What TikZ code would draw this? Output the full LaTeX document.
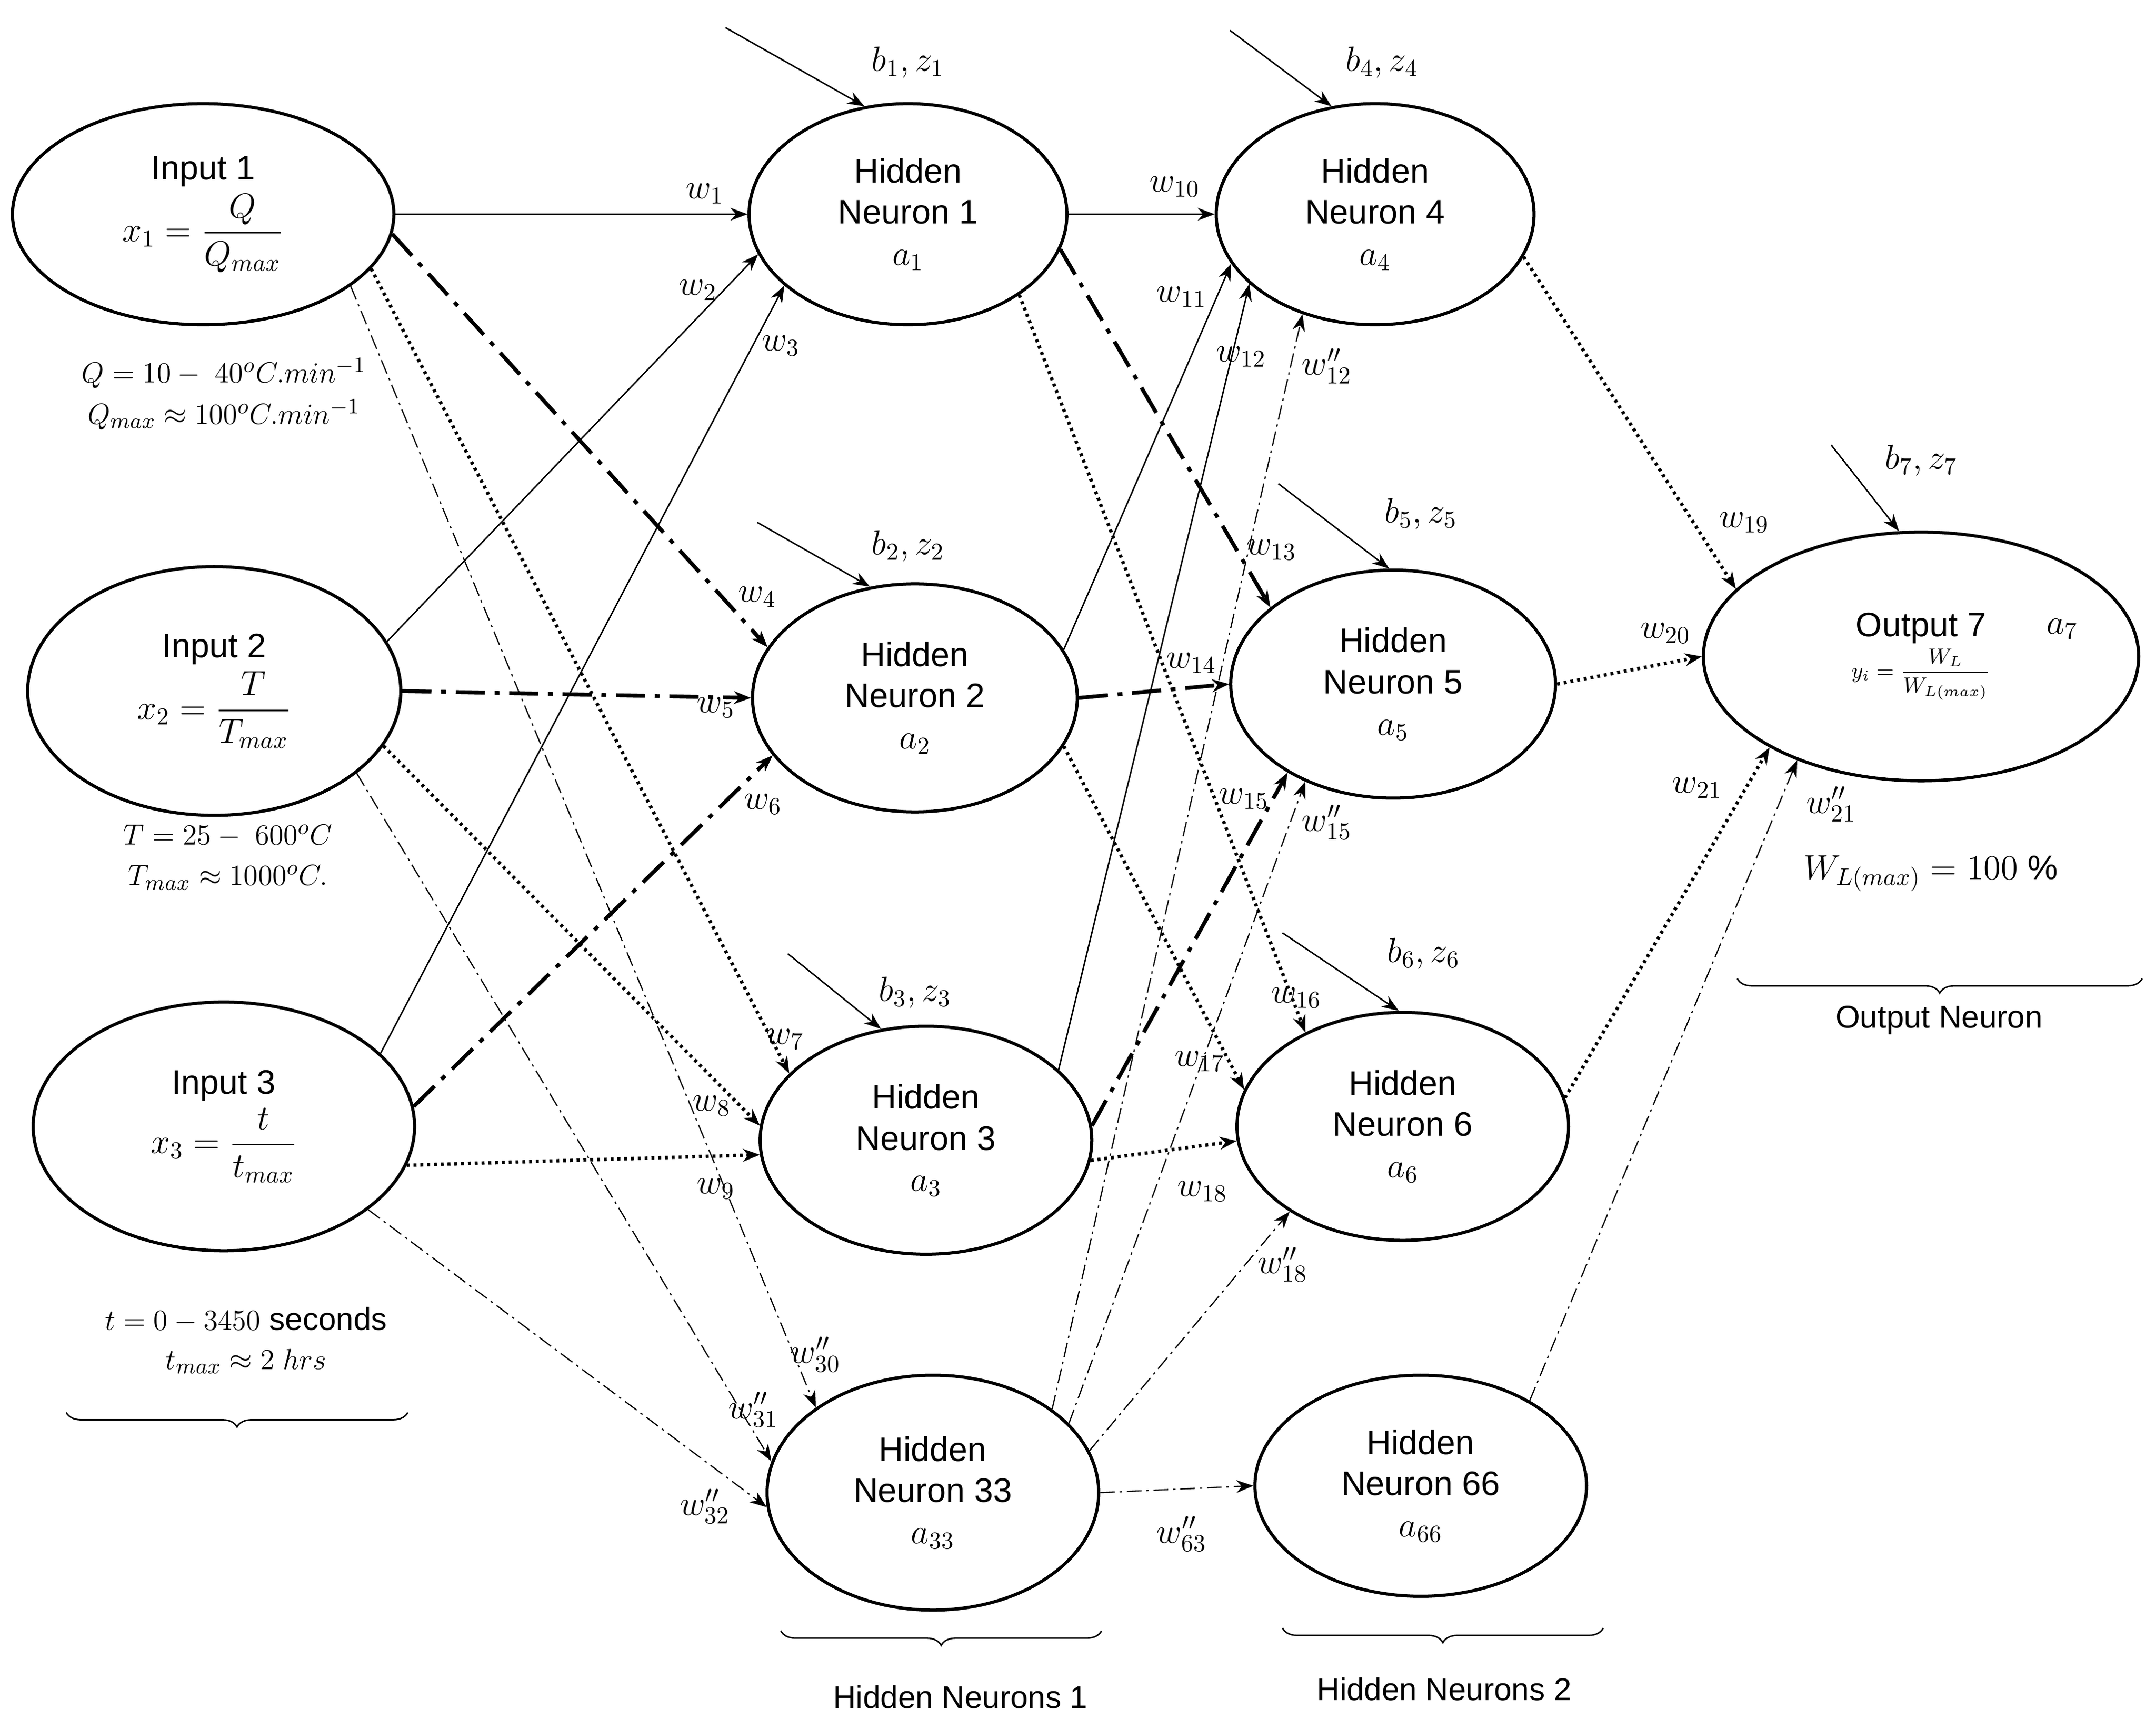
\documentclass[tikz,border=0pt]{standalone}
\usepackage{amsmath}
\usepackage{fontspec}
\setmainfont{Liberation Sans}
\usetikzlibrary{shapes.geometric,arrows.meta,decorations.pathreplacing}
\begin{document}
\begin{tikzpicture}[x=0.02cm,y=-0.02cm,
  font=\fontsize{14}{17}\selectfont,
  nd/.style={ellipse,draw,line width=1.3pt,align=center,inner sep=0pt},
  e/.style={-{Stealth[length=7pt]},line width=0.6pt},
  sd/.style={e},
  td/.style={e,line width=1.6pt,dash pattern=on 12pt off 4pt on 2pt off 4pt},
  dt/.style={e,line width=1.4pt,dash pattern=on 1.2pt off 1.6pt},
  nd2/.style={e,line width=0.5pt,dash pattern=on 6pt off 2pt on 1pt off 2pt},
  lb/.style={font=\fontsize{14}{16}\selectfont},
  nt/.style={font=\fontsize{13}{15}\selectfont},
  br/.style={decorate,decoration={brace,mirror,amplitude=6pt},line width=0.6pt}]
\useasboundingbox (0,0) rectangle (1560,1251);
\node[nd,minimum width=5.52cm,minimum height=3.2cm] (I1) at (147,155) {Input 1\\[2pt] $x_1=\dfrac{Q}{Q_{max}}$};
\node[nd,minimum width=5.4cm,minimum height=3.6cm] (I2) at (155,500) {Input 2\\[2pt] $x_2=\dfrac{T}{T_{max}}$};
\node[nd,minimum width=5.52cm,minimum height=3.6cm] (I3) at (162,815) {Input 3\\[2pt] $x_3=\dfrac{t}{t_{max}}$};
\node[nd,minimum width=4.6cm,minimum height=3.2cm] (H1) at (657,155) {Hidden\\Neuron 1\\$a_1$};
\node[nd,minimum width=4.7cm,minimum height=3.3cm] (H2) at (662,505) {Hidden\\Neuron 2\\$a_2$};
\node[nd,minimum width=4.8cm,minimum height=3.3cm] (H3) at (670,825) {Hidden\\Neuron 3\\$a_3$};
\node[nd,minimum width=4.8cm,minimum height=3.4cm] (H33) at (675,1080) {Hidden\\Neuron 33\\$a_{33}$};
\node[nd,minimum width=4.6cm,minimum height=3.2cm] (H4) at (995,155) {Hidden\\Neuron 4\\$a_4$};
\node[nd,minimum width=4.7cm,minimum height=3.3cm] (H5) at (1008,495) {Hidden\\Neuron 5\\$a_5$};
\node[nd,minimum width=4.8cm,minimum height=3.3cm] (H6) at (1015,815) {Hidden\\Neuron 6\\$a_6$};
\node[nd,minimum width=4.8cm,minimum height=3.2cm] (H66) at (1028,1075) {Hidden\\Neuron 66\\$a_{66}$};
\node[nd,minimum width=6.3cm,minimum height=3.6cm] (O7) at (1390,475) {Output 7\\ {\small$y_i=\dfrac{W_L}{W_{L(max)}}$}};
% input -> hidden1
\draw[sd] (I1.0) -- (H1.180); \draw[td] (I1.-6) -- (H2.161); \draw[dt] (I1.-18) -- (H3.154); \draw[nd2] (I1.-26) -- (H33.144);
\draw[sd] (I2.16) -- (H1.195); \draw[td] (I2.0) -- (H2.180); \draw[dt] (I2.-18) -- (H3.175); \draw[nd2] (I2.-30) -- (H33.169);
\draw[sd] (I3.25) -- (H1.210); \draw[td] (I3.6) -- (H2.202); \draw[dt] (I3.-12) -- (H3.185); \draw[nd2] (I3.-30) -- (H33.185);
% hidden1 -> hidden2
\draw[sd] (H1.0) -- (H4.180); \draw[td] (H1.-13) -- (H5.148); \draw[dt] (H1.-36) -- (H6.136);
\draw[sd] (H2.18) -- (H4.199); \draw[td] (H2.0) -- (H5.180); \draw[dt] (H2.-18) -- (H6.167);
\draw[sd] (H3.28) -- (H4.209); \draw[td] (H3.5) -- (H5.220); \draw[dt] (H3.-7) -- (H6.185);
\draw[nd2] (H33.35) -- (H4.234); \draw[nd2] (H33.27) -- (H5.228); \draw[nd2] (H33.15) -- (H6.217); \draw[nd2] (H33.0) -- (H66.180);
% to output
\draw[dt] (H4.-16) -- (O7.160); \draw[dt] (H5.0) -- (O7.180); \draw[dt] (H6.10) -- (O7.211); \draw[nd2] (H66.38) -- (O7.220);
% weight labels
\foreach \x/\y/\t in {510/140/w_1,505/210/w_2,565/250/w_3,548/432/w_4,518/512/w_5,552/582/w_6,568/752/w_7,515/800/w_8,518/860/w_9,590/980/w''_{30},545/1020/w''_{31},510/1090/w''_{32},850/135/w_{10},855/215/w_{11},898/258/w_{12},960/265/w''_{12},920/398/w_{13},862/480/w_{14},900/578/w_{15},960/595/w''_{15},938/722/w_{16},868/768/w_{17},870/862/w_{18},928/915/w''_{18},855/1110/w''_{63},1262/378/w_{19},1205/458/w_{20},1228/570/w_{21},1325/582/w''_{21}}
  \node[lb] at (\x,\y) {$\t$};
% biases
\coordinate (s1) at (525,20);  \draw[sd] (s1) -- (H1.112);
\coordinate (s4) at (890,22);  \draw[sd] (s4) -- (H4.112);
\coordinate (s2) at (548,378); \draw[sd] (s2) -- (H2.112);
\coordinate (s3) at (570,690); \draw[sd] (s3) -- (H3.112);
\coordinate (s5) at (925,350); \draw[sd] (s5) -- (H5.92);
\coordinate (s6) at (928,675); \draw[sd] (s6) -- (H6.92);
\coordinate (s7) at (1325,322); \draw[sd] (s7) -- (O7.100);
\node[lb] at (657,45) {$b_1,z_1$};
\node[lb] at (1000,45) {$b_4,z_4$};
\node[lb] at (657,395) {$b_2,z_2$};
\node[lb] at (662,718) {$b_3,z_3$};
\node[lb] at (1028,372) {$b_5,z_5$};
\node[lb] at (1030,690) {$b_6,z_6$};
\node[lb] at (1390,333) {$b_7,z_7$};
% side notes
\node[nt] at (162,270) {$Q=10-\;40^oC.min^{-1}$};
\node[nt] at (162,300) {$Q_{max}\approx 100^oC.min^{-1}$};
\node[nt] at (165,605) {$T=25-\;600^oC$};
\node[nt] at (165,635) {$T_{max}\approx 1000^oC.$};
\node[nt] at (178,955) {$t=0-3450$ seconds};
\node[nt] at (178,985) {$t_{max}\approx 2\;hrs$};
\node[lb] at (1397,632) {$W_{L(max)}=100$ \%};
\node[lb] at (1492,455) {$a_7$};
% braces
\draw[br] (48,1022) -- (295,1022);
\draw[br] (565,1180) -- (797,1180);
\draw[br] (928,1178) -- (1160,1178);
\draw[br] (1257,708) -- (1550,708);
\node[nt] at (695,1228) {Hidden Neurons 1};
\node[nt] at (1045,1222) {Hidden Neurons 2};
\node[nt] at (1403,738) {Output Neuron};
\end{tikzpicture}
\end{document}
